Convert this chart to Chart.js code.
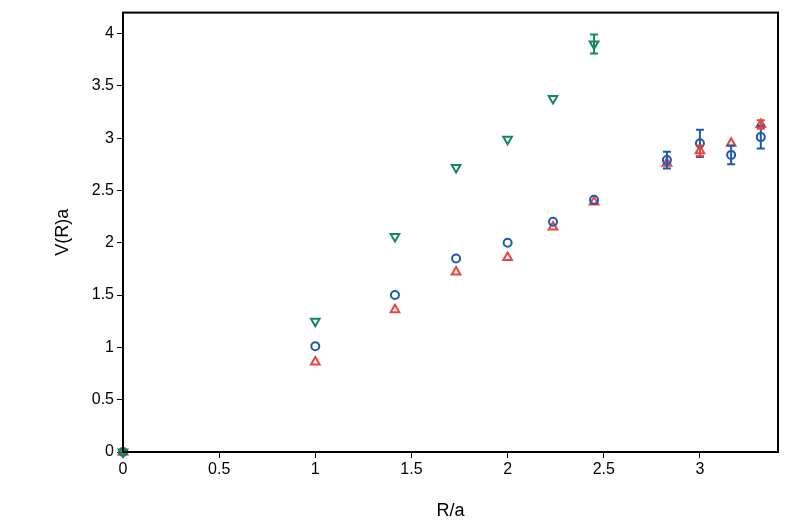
<!DOCTYPE html>
<html>
<head>
<meta charset="utf-8">
<script src="https://cdn.jsdelivr.net/npm/chart.js@4/dist/chart.umd.min.js"></script>
<style>body{margin:0;background:#fff}#wrap{width:789px;height:526px}</style>
</head>
<body>
<div id="wrap"><canvas id="c"></canvas></div>
<script>
// separations R/a
const rGreen = [0, 1, Math.SQRT2, Math.sqrt(3), 2, Math.sqrt(5), Math.sqrt(6)];
const rAll = [0, 1, Math.SQRT2, Math.sqrt(3), 2, Math.sqrt(5), Math.sqrt(6), Math.sqrt(8), 3, Math.sqrt(10), Math.sqrt(11)];

const vGreen = [0, 1.25, 2.06, 2.72, 2.99, 3.38, 3.90];
const eGreen = [0, 0, 0, 0, 0, 0, 0.09];
const vBlue = [0, 1.01, 1.50, 1.85, 2.00, 2.20, 2.41, 2.79, 2.95, 2.84, 3.01];
const eBlue = [0, 0, 0, 0, 0, 0, 0, 0.08, 0.13, 0.09, 0.11];
const vRed = [0, 0.86, 1.36, 1.72, 1.86, 2.15, 2.39, 2.76, 2.88, 2.95, 3.13];
const eRed = [0, 0, 0, 0, 0, 0, 0, 0, 0.05, 0, 0.04];

function pts(xs, ys, es) {
	return xs.map((x, i) => ({x: x, y: ys[i], e: es[i]}));
}

// error bars + frame
const errorBars = {
	id: 'errorBars',
	afterDatasetsDraw(chart) {
		const ctx = chart.ctx;
		const xs = chart.scales.x, ys = chart.scales.y;
		chart.data.datasets.forEach((ds) => {
			ctx.save();
			ctx.strokeStyle = ds.borderColor;
			ctx.lineWidth = 2;
			ds.data.forEach((p) => {
				if (!p.e) return;
				const px = xs.getPixelForValue(p.x);
				const y1 = ys.getPixelForValue(p.y - p.e), y2 = ys.getPixelForValue(p.y + p.e);
				ctx.beginPath();
				ctx.moveTo(px, y1); ctx.lineTo(px, y2);
				ctx.moveTo(px - 4, y1); ctx.lineTo(px + 4, y1);
				ctx.moveTo(px - 4, y2); ctx.lineTo(px + 4, y2);
				ctx.stroke();
			});
			ctx.restore();
		});
		const a = chart.chartArea;
		ctx.save();
		ctx.strokeStyle = '#000';
		ctx.lineWidth = 2;
		ctx.strokeRect(a.left, a.top, a.right - a.left, a.bottom - a.top);
		ctx.restore();
	}
};

const font = {family: 'Liberation Sans, Arial, sans-serif', size: 16};
const halfSteps = (s) => { s.ticks = s.ticks.filter((t) => Math.abs(t.value * 2 - Math.round(t.value * 2)) < 1e-6); };

new Chart(document.getElementById('c'), {
	type: 'scatter',
	data: {
		datasets: [{
			data: pts(rGreen, vGreen, eGreen),
			borderColor: '#128a5a', backgroundColor: 'transparent', clip: false,
			pointStyle: 'triangle', rotation: 180, pointRadius: 5, borderWidth: 2
		}, {
			data: pts(rAll, vBlue, eBlue),
			borderColor: '#1a5bb0', backgroundColor: 'transparent', clip: false,
			pointStyle: 'circle', pointRadius: 4, borderWidth: 2
		}, {
			data: pts(rAll, vRed, eRed),
			borderColor: '#e8453c', backgroundColor: 'transparent', clip: false,
			pointStyle: 'triangle', pointRadius: 5, borderWidth: 2
		}]
	},
	options: {
		responsive: true, maintainAspectRatio: false, animation: false,
		layout: {padding: {top: 12, right: 11, left: 48, bottom: 0}},
		plugins: {legend: {display: false}, tooltip: {enabled: false}},
		scales: {
			x: {
				type: 'linear', min: 0, max: 3.406,
				afterBuildTicks: halfSteps,
				afterFit: (s) => { s.height = 74; },
				grid: {drawOnChartArea: false, color: '#000', tickLength: 6},
				border: {color: '#000', width: 2},
				ticks: {stepSize: 0.5, color: '#000', font: font, padding: 2, callback: (v) => v},
				title: {display: true, text: 'R/a', color: '#000', font: {family: font.family, size: 18}, padding: {top: 2}}
			},
			y: {
				min: 0, max: 4.2,
				afterBuildTicks: halfSteps,
				afterFit: (s) => { s.width = 75; },
				grid: {drawOnChartArea: false, color: '#000', tickLength: 6},
				border: {color: '#000', width: 2},
				ticks: {stepSize: 0.5, color: '#000', font: font, callback: (v) => v},
				title: {display: true, text: 'V(R)a', color: '#000', font: {family: font.family, size: 18}}
			}
		}
	},
	plugins: [errorBars]
});
</script>
</body>
</html>
